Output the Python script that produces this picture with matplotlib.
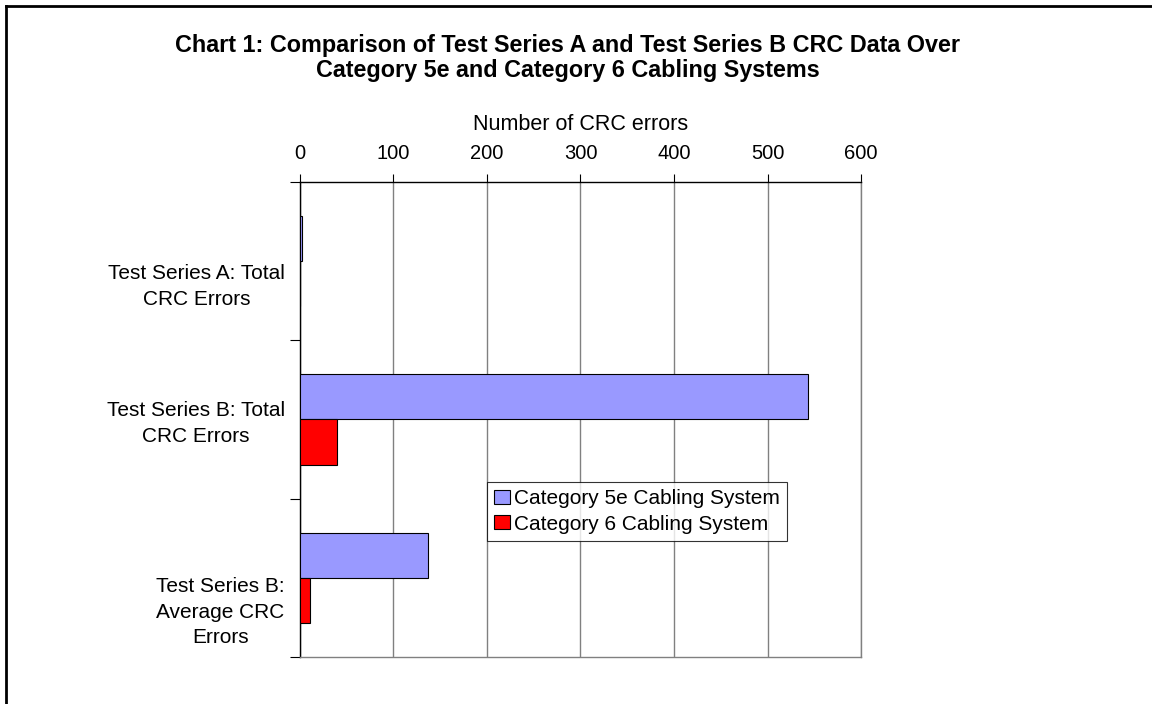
import numpy as np
import matplotlib
matplotlib.use("Agg")
import matplotlib.pyplot as plt
from matplotlib.lines import Line2D
from matplotlib.transforms import ScaledTranslation

plt.rcParams["font.family"] = ["Liberation Sans", "DejaVu Sans"]

categories = ["Test Series A: Total\nCRC Errors",
              "Test Series B: Total\nCRC Errors",
              "Test Series B:\nAverage CRC\nErrors"]
cat5e = [2, 543, 137]
cat6 = [0, 40, 11]
series_names = ["Category 5e Cabling System", "Category 6 Cabling System"]
x_ticks = [0, 100, 200, 300, 400, 500, 600]

fig = plt.figure(figsize=(11.52, 7.04), dpi=100)
ax = fig.add_axes([0.2604, 0.0668, 0.487, 0.6747])

y = np.arange(len(categories))
h = 0.285
ax.barh(y - h / 2, cat5e, height=h, color="#9999FF", edgecolor="black",
        linewidth=0.8, label=series_names[0], zorder=3)
ax.barh(y + h / 2, cat6, height=h, color="#FF0000", edgecolor="black",
        linewidth=0.8, label=series_names[1], zorder=3)

ax.set_xlim(0, 600)
ax.set_ylim(len(categories) - 0.5, -0.5)
ax.xaxis.tick_top()
ax.xaxis.set_label_position("top")
ax.set_xticks(x_ticks)
ax.set_xlabel("Number of CRC errors", fontsize=15.5, labelpad=10)
ax.tick_params(axis="x", direction="out", length=6, width=0.8,
               labelsize=14.5, pad=8, colors="black")
ax.xaxis.grid(True, color="#808080", linewidth=1, zorder=0)

# category labels sit between the boundary ticks
ax.set_yticks(y)
ax.set_yticklabels(categories, fontsize=15, ha="right",
                   multialignment="center", linespacing=1.45)
ax.set_yticks(np.arange(len(categories) + 1) - 0.5, minor=True)
ax.tick_params(axis="y", which="major", length=0, pad=11)
ax.tick_params(axis="y", which="minor", direction="out", length=7, width=0.8)
offsets = [20, -1, 29]
for lbl, dy in zip(ax.get_yticklabels(), offsets):
    lbl.set_transform(lbl.get_transform() +
                      ScaledTranslation(0, -dy / 100, fig.dpi_scale_trans))

for side in ["right", "bottom"]:
    ax.spines[side].set_color("#808080")
    ax.spines[side].set_linewidth(1)
for side in ["left", "top"]:
    ax.spines[side].set_color("black")
    ax.spines[side].set_linewidth(1)

leg = ax.legend(loc="upper left", bbox_to_anchor=(0.333, 0.368), fontsize=15,
                frameon=True, fancybox=False, handlelength=0.75,
                handleheight=0.65, handletextpad=0.2, borderpad=0.35,
                labelspacing=0.3, borderaxespad=0)
leg.get_frame().set_edgecolor("black")
leg.get_frame().set_linewidth(0.8)

fig.text(0.493, 0.918,
         "Chart 1: Comparison of Test Series A and Test Series B CRC Data Over\n"
         "Category 5e and Category 6 Cabling Systems",
         ha="center", va="center", fontsize=16.8, fontweight="bold",
         linespacing=1.12)

# outer chart border (continues past the right and bottom edges)
bx = 5.5 / 1152
by = 1 - 5.5 / 704
fig.add_artist(Line2D([bx, 1.0], [by, by], color="black", linewidth=2,
                      transform=fig.transFigure))
fig.add_artist(Line2D([bx, bx], [0.0, by], color="black", linewidth=2,
                      transform=fig.transFigure))

fig.savefig("out.png", dpi=100)
